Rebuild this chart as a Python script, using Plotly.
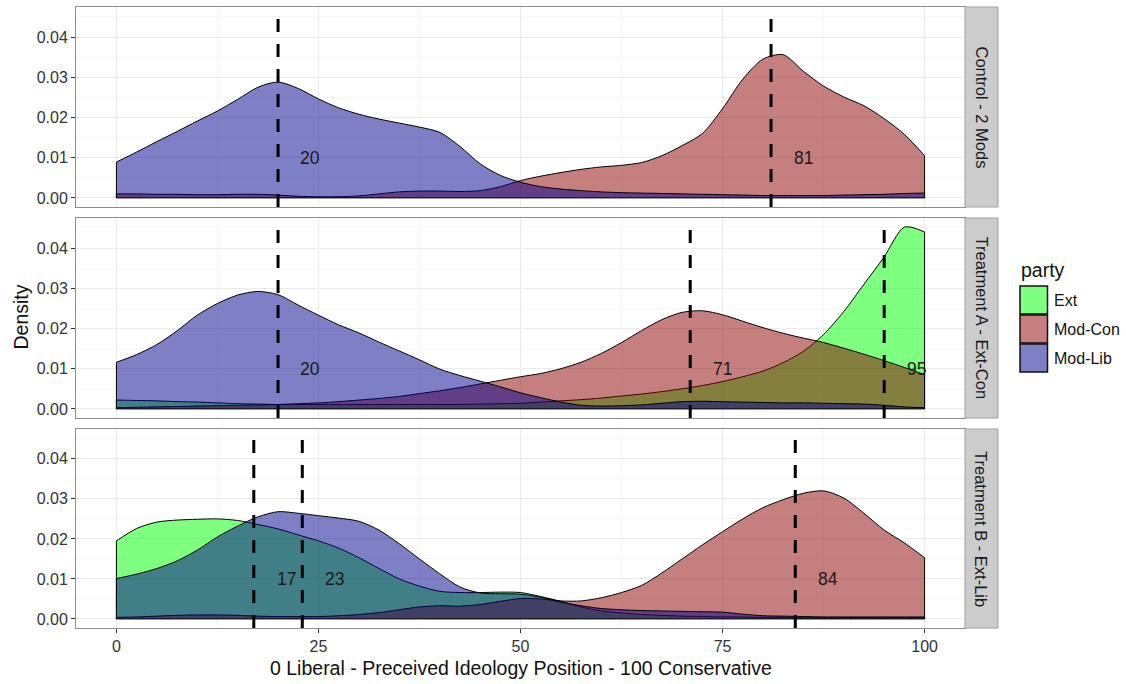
import plotly.graph_objects as go

# ---------------- data ----------------
X = [0, 2.5, 5, 7.5, 10, 12.5, 15, 17.5, 20, 22.5, 25, 27.5, 30, 32.5, 35, 37.5, 40,
     42.5, 45, 47.5, 50, 52.5, 55, 57.5, 60, 62.5, 65, 67.5, 70, 72.5, 75, 77.5, 80,
     82.5, 85, 87.5, 90, 92.5, 95, 97.5, 100]

panels = ["Control - 2 Mods", "Treatment A - Ext-Con", "Treatment B - Ext-Lib"]
parties = ["Ext", "Mod-Con", "Mod-Lib"]

# Control - 2 Mods
ctrl_modcon = [0.0010, 0.0010, 0.0009, 0.0009, 0.0008, 0.0008, 0.0009, 0.0009, 0.0007, 0.0004,
               0.0003, 0.0003, 0.0005, 0.0010, 0.0015, 0.0017, 0.0017, 0.0016, 0.0018, 0.0028,
               0.0043, 0.0054, 0.0063, 0.0071, 0.0077, 0.0081, 0.0088, 0.0105, 0.0130, 0.0160,
               0.0222, 0.0295, 0.0345, 0.0356, 0.0315, 0.0278, 0.0251, 0.0229, 0.0197, 0.0158,
               0.0105]
ctrl_modlib = [0.0089, 0.0114, 0.0140, 0.0165, 0.0191, 0.0216, 0.0245, 0.0275, 0.0288, 0.0272,
               0.0246, 0.0224, 0.0208, 0.0196, 0.0186, 0.0176, 0.0163, 0.0128, 0.0085, 0.0056,
               0.0039, 0.0028, 0.0022, 0.0018, 0.0015, 0.0013, 0.0012, 0.0011, 0.0010, 0.0009,
               0.0008, 0.0007, 0.0006, 0.0006, 0.0006, 0.0006, 0.0007, 0.0008, 0.0009, 0.0011,
               0.0012]
ctrl_means = [81, 20]

# Treatment A - Ext-Con
trtA_ext = [0.0022, 0.0021, 0.0020, 0.0018, 0.0017, 0.0015, 0.0013, 0.0012, 0.0011, 0.0011,
            0.0011, 0.0011, 0.0011, 0.0011, 0.0011, 0.0011, 0.0011, 0.0011, 0.0012, 0.0013,
            0.0014, 0.0017, 0.0020, 0.0023, 0.0027, 0.0032, 0.0037, 0.0043, 0.0050, 0.0058,
            0.0068, 0.0080, 0.0094, 0.0115, 0.0143, 0.0185, 0.0242, 0.0310, 0.0378, 0.0452,
            0.0440]
trtA_modcon = [0.0003, 0.0004, 0.0005, 0.0006, 0.0007, 0.0008, 0.0009, 0.0010, 0.0011, 0.0013,
               0.0015, 0.0018, 0.0022, 0.0026, 0.0031, 0.0038, 0.0045, 0.0053, 0.0062, 0.0071,
               0.0080, 0.0088, 0.0100, 0.0116, 0.0138, 0.0165, 0.0195, 0.0222, 0.0240, 0.0244,
               0.0234, 0.0218, 0.0202, 0.0188, 0.0176, 0.0165, 0.0151, 0.0136, 0.0120, 0.0103,
               0.0085]
trtA_modlib = [0.0116, 0.0135, 0.0160, 0.0194, 0.0233, 0.0262, 0.0283, 0.0292, 0.0284, 0.0258,
               0.0233, 0.0209, 0.0189, 0.0166, 0.0144, 0.0122, 0.0099, 0.0083, 0.0069, 0.0055,
               0.0040, 0.0028, 0.0017, 0.0009, 0.0007, 0.0008, 0.0010, 0.0014, 0.0018, 0.0019,
               0.0018, 0.0017, 0.0016, 0.0015, 0.0015, 0.0014, 0.0013, 0.0012, 0.0009, 0.0005,
               0.0003]
trtA_means = [95, 71, 20]

# Treatment B - Ext-Lib
trtB_ext = [0.0195, 0.0226, 0.0242, 0.0247, 0.0249, 0.0250, 0.0246, 0.0236, 0.0225, 0.0210,
            0.0195, 0.0177, 0.0153, 0.0126, 0.0100, 0.0082, 0.0069, 0.0066, 0.0066, 0.0067,
            0.0066, 0.0056, 0.0044, 0.0030, 0.0020, 0.0015, 0.0011, 0.0009, 0.0007, 0.0006,
            0.0005, 0.0005, 0.0004, 0.0004, 0.0003, 0.0003, 0.0003, 0.0003, 0.0003, 0.0003,
            0.0003]
trtB_modcon = [0.0004, 0.0005, 0.0007, 0.0009, 0.0010, 0.0010, 0.0009, 0.0007, 0.0006, 0.0006,
               0.0006, 0.0008, 0.0011, 0.0016, 0.0023, 0.0030, 0.0033, 0.0032, 0.0036, 0.0044,
               0.0051, 0.0050, 0.0045, 0.0045, 0.0053, 0.0066, 0.0084, 0.0115, 0.0150, 0.0185,
               0.0218, 0.0250, 0.0278, 0.0298, 0.0314, 0.0320, 0.0302, 0.0264, 0.0222, 0.0190,
               0.0153]
trtB_modlib = [0.0101, 0.0112, 0.0126, 0.0145, 0.0172, 0.0205, 0.0232, 0.0255, 0.0268, 0.0264,
               0.0258, 0.0252, 0.0244, 0.0222, 0.0188, 0.0150, 0.0113, 0.0080, 0.0065, 0.0063,
               0.0062, 0.0054, 0.0042, 0.0033, 0.0026, 0.0023, 0.0021, 0.0020, 0.0019, 0.0018,
               0.0017, 0.0012, 0.0008, 0.0007, 0.0006, 0.0005, 0.0005, 0.0005, 0.0005, 0.0005,
               0.0005]
trtB_means = [17, 23, 84]

x_ticks = [0, 25, 50, 75, 100]
y_ticks = [0.00, 0.01, 0.02, 0.03, 0.04]

# ---------------- styling ----------------
FONT = "Liberation Sans, Arial, sans-serif"
fill_colors = {"Ext": "rgba(0,255,0,0.5)",
               "Mod-Con": "rgba(139,0,0,0.5)",
               "Mod-Lib": "rgba(0,0,139,0.5)"}
LABEL_DX = 4
LABEL_Y = 0.01

panel_series = [
    {"Mod-Con": ctrl_modcon, "Mod-Lib": ctrl_modlib},
    {"Ext": trtA_ext, "Mod-Con": trtA_modcon, "Mod-Lib": trtA_modlib},
    {"Ext": trtB_ext, "Mod-Con": trtB_modcon, "Mod-Lib": trtB_modlib},
]
panel_means = [ctrl_means, trtA_means, trtB_means]

# plot area in pixels: x 76..965, y 7..628
W, H = 1126, 684
L, R, T, B = 76, 161, 7, 56
PW, PH = W - L - R, H - T - B


def px_x(p):
    return (p - L) / PW


def px_y(p):
    return (H - B - p) / PH


domains = [(px_y(207), 1.0), (px_y(418), px_y(218)), (0.0, px_y(429))]

ymax = max(max(v) for ps in panel_series for v in ps.values())
y_range = [-0.05 * ymax, ymax * 1.05]
x_range = [X[0] - 0.05 * (X[-1] - X[0]), X[-1] + 0.05 * (X[-1] - X[0])]

fig = go.Figure()
shapes = []
annotations = []

for i, series in enumerate(panel_series):
    xa = "x" if i == 0 else f"x{i + 1}"
    ya = "y" if i == 0 else f"y{i + 1}"
    ex, ey = [], []
    for party in parties:
        if party not in series:
            continue
        vals = series[party]
        fig.add_trace(go.Scatter(
            x=X, y=vals, xaxis=xa, yaxis=ya, mode="lines",
            line=dict(color="black", width=1, shape="spline", smoothing=0.8),
            fill="tozeroy", fillcolor=fill_colors[party],
            name=party, showlegend=False, hoverinfo="skip"))
        ex += [X[0], X[0], None, X[-1], X[-1], None]
        ey += [0, vals[0], None, 0, vals[-1], None]
    ex += [X[0], X[-1]]
    ey += [0, 0]
    fig.add_trace(go.Scatter(x=ex, y=ey, xaxis=xa, yaxis=ya, mode="lines",
                             line=dict(color="black", width=1),
                             showlegend=False, hoverinfo="skip"))
    # dashed mean lines + labels
    for m in panel_means[i]:
        shapes.append(dict(type="line", xref=xa, yref=f"{ya} domain",
                           x0=m, x1=m, y0=0, y1=1,
                           line=dict(color="black", width=3, dash="13px,12px")))
        annotations.append(dict(x=m + LABEL_DX, y=LABEL_Y, xref=xa, yref=ya,
                                text=str(m), showarrow=False,
                                font=dict(family=FONT, size=17.5, color="#1a1a1a"),
                                xanchor="center", yanchor="middle"))
    # strip
    d0, d1 = domains[i]
    shapes.append(dict(type="rect", xref="paper", yref="paper",
                       x0=1.0, x1=px_x(998), y0=d0, y1=d1,
                       fillcolor="#CCCCCC", line=dict(color="#A0A0A0", width=1)))
    annotations.append(dict(x=(1.0 + px_x(998)) / 2, y=(d0 + d1) / 2,
                            xref="paper", yref="paper", text=panels[i],
                            textangle=90, showarrow=False,
                            font=dict(family=FONT, size=16.5, color="#1a1a1a"),
                            xanchor="center", yanchor="middle"))

# axes
layout_axes = {}
for i in range(3):
    xk = "xaxis" if i == 0 else f"xaxis{i + 1}"
    yk = "yaxis" if i == 0 else f"yaxis{i + 1}"
    bottom = (i == 2)
    layout_axes[xk] = dict(
        domain=[0, 1], anchor="y" if i == 0 else f"y{i + 1}",
        range=x_range, tickvals=x_ticks,
        showticklabels=bottom, ticks="outside" if bottom else "",
        ticklen=4, tickwidth=1, tickcolor="#333333",
        tickfont=dict(family=FONT, size=16, color="#333333"),
        showgrid=True, gridcolor="#EBEBEB", gridwidth=1,
        minor=dict(dtick=12.5, tick0=0, showgrid=True, gridcolor="#F6F6F6", gridwidth=1),
        zeroline=False, showline=True, mirror=True,
        linecolor="#8C8C8C", linewidth=1,
    )
    if i > 0:
        layout_axes[xk]["matches"] = "x"
    layout_axes[yk] = dict(
        domain=list(domains[i]), anchor="x" if i == 0 else f"x{i + 1}",
        range=y_range, tickvals=y_ticks, tickformat=".2f",
        ticks="outside", ticklen=4, tickwidth=1, tickcolor="#333333",
        tickfont=dict(family=FONT, size=16, color="#333333"),
        showgrid=True, gridcolor="#EBEBEB", gridwidth=1,
        minor=dict(dtick=0.005, tick0=0, showgrid=True, gridcolor="#F6F6F6", gridwidth=1),
        zeroline=False, showline=True, mirror=True,
        linecolor="#8C8C8C", linewidth=1,
    )

# axis titles
annotations.append(dict(x=0.5, y=px_y(668), xref="paper", yref="paper",
                        text="0 Liberal - Preceived Ideology Position - 100 Conservative",
                        showarrow=False, font=dict(family=FONT, size=19.5, color="#111111"),
                        xanchor="center", yanchor="middle"))
annotations.append(dict(x=px_x(20), y=px_y(317.5), xref="paper", yref="paper",
                        text="Density", textangle=-90, showarrow=False,
                        font=dict(family=FONT, size=19.5, color="#111111"),
                        xanchor="center", yanchor="middle"))

# legend (manual, ggplot style)
annotations.append(dict(x=px_x(1019), y=px_y(270), xref="paper", yref="paper",
                        text="party", showarrow=False,
                        font=dict(family=FONT, size=19.5, color="#111111"),
                        xanchor="left", yanchor="middle"))
key_tops = [286, 315, 344]
for party, top in zip(parties, key_tops):
    shapes.append(dict(type="rect", xref="paper", yref="paper",
                       x0=px_x(1020), x1=px_x(1047.5), y0=px_y(top + 28), y1=px_y(top),
                       fillcolor=fill_colors[party], line=dict(color="#111111", width=1.5)))
    annotations.append(dict(x=px_x(1052), y=px_y(top + 14.5), xref="paper", yref="paper",
                            text=party, showarrow=False,
                            font=dict(family=FONT, size=16, color="#111111"),
                            xanchor="left", yanchor="middle"))

fig.update_layout(
    width=W, height=H,
    margin=dict(l=L, r=R, t=T, b=B),
    paper_bgcolor="white", plot_bgcolor="white",
    showlegend=False, hovermode=False,
    shapes=shapes, annotations=annotations,
    **layout_axes,
)

fig.write_html(
    "out.html",
    config={"displayModeBar": False, "staticPlot": True},
    post_script="document.body.style.margin='0';document.body.style.padding='0';"
                "document.documentElement.style.overflow='hidden';",
)
